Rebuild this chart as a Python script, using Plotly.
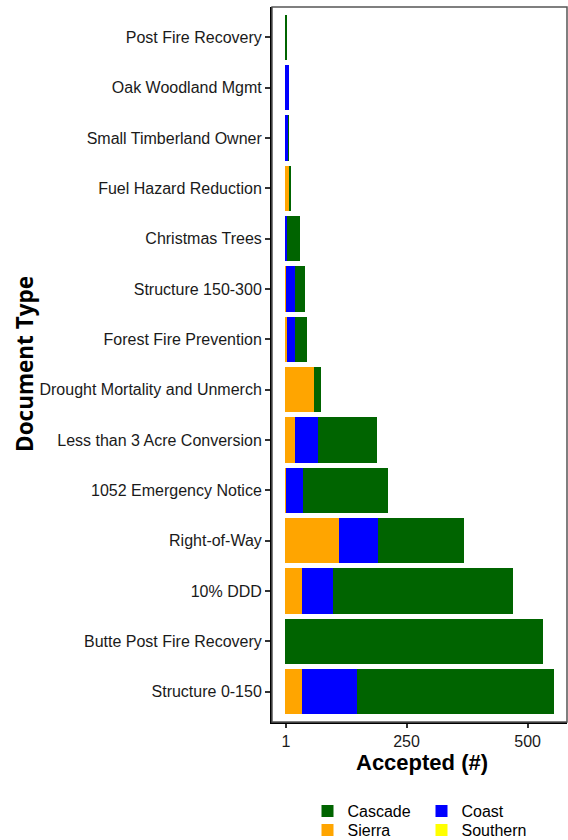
import plotly.graph_objects as go

categories = ["Structure 0-150", "Butte Post Fire Recovery", "10% DDD", "Right-of-Way",
              "1052 Emergency Notice", "Less than 3 Acre Conversion",
              "Drought Mortality and Unmerch", "Forest Fire Prevention", "Structure 150-300",
              "Christmas Trees", "Fuel Hazard Reduction", "Small Timberland Owner",
              "Oak Woodland Mgmt", "Post Fire Recovery"]
southern = [0, 0, 0, 0, 0, 0, 0, 0, 0, 0, 0, 0, 0, 0]
sierra = [35, 0, 34, 110, 2, 20, 59, 4, 2, 0, 9, 0, 0, 0]
coast = [112, 0, 65, 82, 34, 47, 1, 16, 18, 3, 0, 6, 7, 0]
cascade = [407, 531, 370, 176, 175, 122, 13, 24, 20, 28, 2, 1, 0, 2]
tick_vals = [1, 250, 500]

series = [
    ("Southern", southern, "#FFFF00", "legend2", 2),
    ("Sierra", sierra, "#FFA500", "legend2", 1),
    ("Coast", coast, "#0000FF", "legend", 2),
    ("Cascade", cascade, "#006400", "legend", 1),
]

fig = go.Figure()
for name, vals, col, lg, rank in series:
    fig.add_trace(go.Bar(
        y=categories, x=vals, name=name, orientation="h",
        marker=dict(color=col, line=dict(width=0)),
        legend=lg, legendrank=rank,
    ))

W, H = 568, 840
ml, mr, mt, mb = 272, 1, 7, 118
pw = W - ml - mr
ph = H - mt - mb

def px_x(p):
    return (p - ml) / pw

def px_y(p):
    return (H - mb - p) / ph

legend_common = dict(
    orientation="h", xanchor="left", yanchor="middle", traceorder="normal",
    font=dict(family="Liberation Sans, Arial", size=16, color="#000000"),
    entrywidth=69, entrywidthmode="pixels", bgcolor="rgba(0,0,0,0)",
    itemclick=False, itemdoubleclick=False, tracegroupgap=0,
)

fig.update_layout(
    width=W, height=H,
    margin=dict(l=ml, r=mr, t=mt, b=mb, autoexpand=False),
    barmode="stack", bargap=0.1,
    plot_bgcolor="white", paper_bgcolor="white",
    font=dict(family="Liberation Sans, Arial", size=16, color="#1a1a1a"),
    showlegend=True,
    legend=dict(x=px_x(307.5), y=px_y(811), **legend_common),
    legend2=dict(x=px_x(307.5), y=px_y(830), **legend_common),
    xaxis=dict(
        range=[-27.7, 581.2], tickvals=tick_vals, ticktext=[str(v) for v in tick_vals],
        showgrid=False, zeroline=False, showline=True, linecolor="#000000", linewidth=2,
        ticks="outside", ticklen=4, tickwidth=1.5, tickcolor="#333333", automargin=False,
        tickfont=dict(size=16, color="#1a1a1a"),
    ),
    yaxis=dict(
        range=[-0.6, 13.6], type="category", categoryorder="array", categoryarray=categories,
        showgrid=False, zeroline=False, showline=True, linecolor="#000000", linewidth=2,
        ticks="outside", ticklen=5, tickwidth=1.5, tickcolor="#333333", automargin=False,
        tickfont=dict(size=16, color="#1a1a1a"),
    ),
    shapes=[dict(type="rect", xref="paper", yref="paper", x0=0, x1=1, y0=0, y1=1,
                 line=dict(color="#555555", width=1.5), fillcolor="rgba(0,0,0,0)")],
    annotations=[
        dict(text="<b>Accepted (#)</b>", xref="paper", yref="paper",
             x=px_x(422), y=px_y(762), xanchor="center", yanchor="middle", showarrow=False,
             font=dict(family="Liberation Sans, Arial", size=22, color="#000000")),
        dict(text="<b>Document Type</b>", xref="paper", yref="paper",
             x=px_x(24), y=px_y(364), xanchor="center", yanchor="middle", showarrow=False,
             textangle=-90,
             font=dict(family="Open Sans", size=22.5, color="#000000")),
    ],
)

fig.write_html("out.html",
               config={"displayModeBar": False},
               post_script="document.body.style.margin='0';document.body.style.overflow='hidden';")
